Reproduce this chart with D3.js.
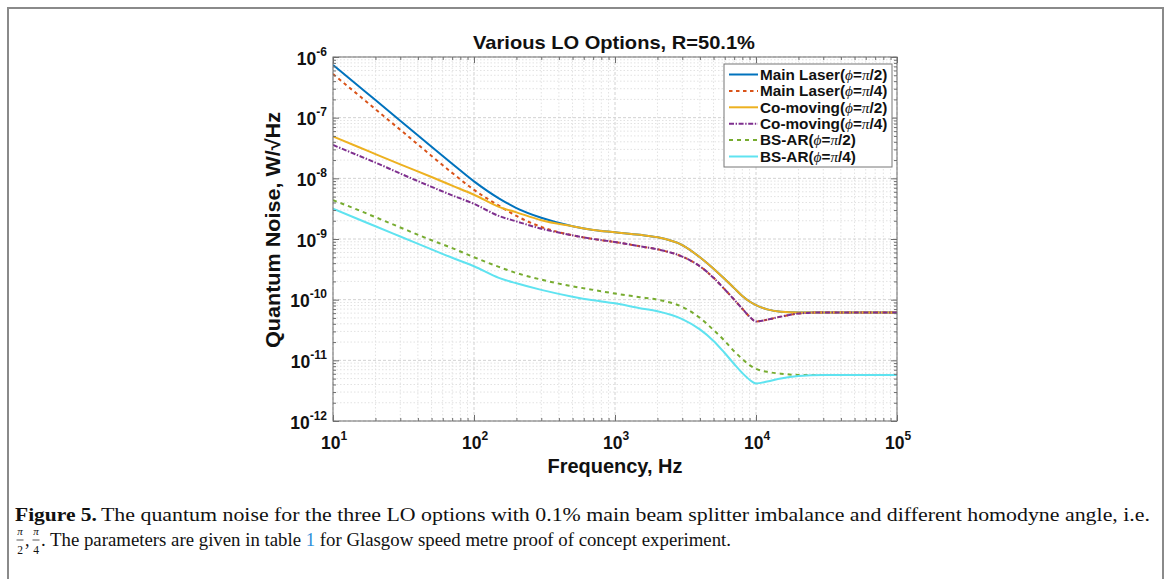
<!DOCTYPE html>
<html><head><meta charset="utf-8">
<script src="https://cdn.jsdelivr.net/npm/d3@7"></script>
<style>body{margin:0;background:#fff;} svg{display:block;}</style>
</head><body>
<svg id="c" width="1170" height="579"></svg>
<script>
// ---- data ----
const frequencies = [10,15,20,30,50,70,100,150,200,300,500,700,1000,1500,2000,3000,4000,5000,6000,7000,8000,9000,10000,12000,15000,20000,30000,50000,100000];
const mainLaserPi2 = [7.41e-7,3.39e-7,1.95e-7,8.91e-8,3.31e-8,1.74e-8,8.91e-9,4.68e-9,3.24e-9,2.24e-9,1.62e-9,1.41e-9,1.29e-9,1.17e-9,1.07e-9,7.94e-10,5.01e-10,3.24e-10,2.19e-10,1.55e-10,1.15e-10,9.33e-11,8.13e-11,6.92e-11,6.31e-11,6.17e-11,6.17e-11,6.17e-11,6.17e-11];
const mainLaserPi4 = [5.25e-7,2.40e-7,1.38e-7,6.31e-8,2.34e-8,1.23e-8,6.46e-9,3.55e-9,2.40e-9,1.58e-9,1.15e-9,1.00e-9,8.91e-10,7.59e-10,6.76e-10,5.13e-10,3.55e-10,2.29e-10,1.48e-10,1.00e-10,7.08e-11,5.25e-11,4.37e-11,4.68e-11,5.25e-11,5.89e-11,6.17e-11,6.17e-11,6.17e-11];
const coMovingPi2 = [4.90e-8,3.31e-8,2.51e-8,1.70e-8,1.05e-8,7.59e-9,5.37e-9,3.39e-9,2.75e-9,2.04e-9,1.62e-9,1.41e-9,1.29e-9,1.17e-9,1.07e-9,7.94e-10,5.01e-10,3.24e-10,2.19e-10,1.55e-10,1.15e-10,9.33e-11,8.13e-11,6.92e-11,6.31e-11,6.17e-11,6.17e-11,6.17e-11,6.17e-11];
const coMovingPi4 = [3.55e-8,2.40e-8,1.82e-8,1.20e-8,7.24e-9,5.25e-9,3.80e-9,2.40e-9,1.95e-9,1.48e-9,1.15e-9,1.00e-9,8.91e-10,7.59e-10,6.76e-10,5.13e-10,3.55e-10,2.29e-10,1.48e-10,1.00e-10,7.08e-11,5.25e-11,4.37e-11,4.68e-11,5.25e-11,5.89e-11,6.17e-11,6.17e-11,6.17e-11];
const bsArPi2 = [4.37e-9,3.02e-9,2.29e-9,1.55e-9,9.55e-10,7.08e-10,5.01e-10,3.47e-10,2.75e-10,2.14e-10,1.66e-10,1.45e-10,1.26e-10,1.10e-10,1.00e-10,7.59e-11,5.01e-11,3.16e-11,2.09e-11,1.41e-11,1.05e-11,8.32e-12,7.24e-12,6.46e-12,6.03e-12,5.75e-12,5.75e-12,5.75e-12,5.75e-12];
const bsArPi4 = [3.16e-9,2.14e-9,1.62e-9,1.10e-9,6.76e-10,4.90e-10,3.55e-10,2.29e-10,1.86e-10,1.45e-10,1.12e-10,9.77e-11,8.71e-11,7.24e-11,6.46e-11,4.79e-11,3.24e-11,2.09e-11,1.32e-11,8.71e-12,6.17e-12,4.79e-12,4.17e-12,4.47e-12,5.01e-12,5.50e-12,5.75e-12,5.75e-12,5.75e-12];
const seriesLabels = ["Main Laser(", "Main Laser(", "Co-moving(", "Co-moving(", "BS-AR(", "BS-AR("];
const seriesAngles = ["/2)", "/4)", "/2)", "/4)", "/2)", "/4)"];
const xTickExponents = [1,2,3,4,5];
const yTickExponents = [-6,-7,-8,-9,-10,-11,-12];
const titleText = "Various LO Options, R=50.1%";
const xLabelText = "Frequency, Hz";
const yLabelText = "Quantum Noise, W/\u221AHz";

// ---- styles ----
const seriesValues = [mainLaserPi2, mainLaserPi4, coMovingPi2, coMovingPi4, bsArPi2, bsArPi4];
const seriesColors = ["#0072bd", "#d95319", "#edb120", "#7e2f8e", "#77ac30", "#5fe3f0"];
const seriesDash = [null, "3.5,3.5", null, "5,1.6,1.4,1.6", "4,4", null];

const svg = d3.select("#c");
const sans = "'Liberation Sans', Arial, sans-serif";
const serif = "'Liberation Serif', 'Times New Roman', serif";

// outer frame
svg.append("path").attr("d", "M8,590 L8,8 L1163,8 L1163,590")
  .attr("fill", "none").attr("stroke", "#8a8a8a").attr("stroke-width", 2);

const L = 333, R = 897, T = 57, B = 421;
const x = d3.scaleLog().domain([10, 1e5]).range([L, R]);
const y = d3.scaleLog().domain([1e-12, 1e-6]).range([B, T]);

const xMajor = xTickExponents.map(e => Math.pow(10, e));
const yMajor = yTickExponents.map(e => Math.pow(10, e));
const xMinor = [], yMinor = [];
for (let d = 1; d < 5; d++) for (let m = 2; m <= 9; m++) xMinor.push(m * Math.pow(10, d));
for (let d = -12; d < -6; d++) for (let m = 2; m <= 9; m++) yMinor.push(m * Math.pow(10, d));

// grid
const grid = svg.append("g");
grid.selectAll(".gxm").data(xMinor).join("line")
  .attr("x1", d => x(d)).attr("x2", d => x(d)).attr("y1", T).attr("y2", B)
  .attr("stroke", "#e2e2e2").attr("stroke-dasharray", "1.5,2");
grid.selectAll(".gym").data(yMinor).join("line")
  .attr("y1", d => y(d)).attr("y2", d => y(d)).attr("x1", L).attr("x2", R)
  .attr("stroke", "#e2e2e2").attr("stroke-dasharray", "1.5,2");
grid.selectAll(".gx").data(xMajor).join("line")
  .attr("x1", d => x(d)).attr("x2", d => x(d)).attr("y1", T).attr("y2", B)
  .attr("stroke", "#d2d2d2").attr("stroke-dasharray", "3,2");
grid.selectAll(".gy").data(yMajor).join("line")
  .attr("y1", d => y(d)).attr("y2", d => y(d)).attr("x1", L).attr("x2", R)
  .attr("stroke", "#d2d2d2").attr("stroke-dasharray", "3,2");

// lines
const line = d3.line().x((d, i) => x(frequencies[i])).y(d => y(d)).curve(d3.curveMonotoneX);
svg.append("clipPath").attr("id", "pc").append("rect")
  .attr("x", L).attr("y", T).attr("width", R - L).attr("height", B - T);
const lines = svg.append("g").attr("clip-path", "url(#pc)");
seriesValues.forEach((vals, k) => {
  lines.append("path").datum(vals).attr("d", line)
    .attr("fill", "none").attr("stroke", seriesColors[k]).attr("stroke-width", 2)
    .attr("stroke-dasharray", seriesDash[k]);
});

// axes (inward ticks on all sides)
const axColor = "#6e6e6e";
function styleAxis(g) {
  g.select(".domain").remove();
  g.selectAll("line").attr("stroke", axColor);
  g.selectAll("text").remove();
}
svg.append("g").attr("transform", `translate(0,${B})`).call(d3.axisBottom(x).tickValues(xMajor).tickSize(-6)).call(styleAxis);
svg.append("g").attr("transform", `translate(0,${B})`).call(d3.axisBottom(x).tickValues(xMinor).tickSize(-3)).call(styleAxis);
svg.append("g").attr("transform", `translate(0,${T})`).call(d3.axisTop(x).tickValues(xMajor).tickSize(-6)).call(styleAxis);
svg.append("g").attr("transform", `translate(0,${T})`).call(d3.axisTop(x).tickValues(xMinor).tickSize(-3)).call(styleAxis);
svg.append("g").attr("transform", `translate(${L},0)`).call(d3.axisLeft(y).tickValues(yMajor).tickSize(-6)).call(styleAxis);
svg.append("g").attr("transform", `translate(${L},0)`).call(d3.axisLeft(y).tickValues(yMinor).tickSize(-3)).call(styleAxis);
svg.append("g").attr("transform", `translate(${R},0)`).call(d3.axisRight(y).tickValues(yMajor).tickSize(-6)).call(styleAxis);
svg.append("g").attr("transform", `translate(${R},0)`).call(d3.axisRight(y).tickValues(yMinor).tickSize(-3)).call(styleAxis);
svg.append("rect").attr("x", L).attr("y", T).attr("width", R - L).attr("height", B - T)
  .attr("fill", "none").attr("stroke", axColor).attr("stroke-width", 1);

// tick labels
const tl = svg.append("g").attr("font-family", sans).attr("font-weight", "bold").attr("fill", "#111");
yTickExponents.forEach(e => {
  const t = tl.append("text").attr("x", 327).attr("y", y(Math.pow(10, e)) + 7.5).attr("text-anchor", "end").attr("font-size", 17.5);
  t.append("tspan").text("10");
  t.append("tspan").attr("dy", -9).attr("font-size", 12).text(e);
});
xTickExponents.forEach(e => {
  const t = tl.append("text").attr("x", x(Math.pow(10, e)) + 1).attr("y", 449).attr("text-anchor", "middle").attr("font-size", 17.5);
  t.append("tspan").text("10");
  t.append("tspan").attr("dy", -9).attr("font-size", 12).text(e);
});

// title and axis labels
svg.append("text").attr("x", 614).attr("y", 49).attr("text-anchor", "middle")
  .attr("font-family", sans).attr("font-weight", "bold").attr("font-size", 19).attr("fill", "#111")
  .attr("textLength", 282).attr("lengthAdjust", "spacingAndGlyphs").text(titleText);
svg.append("text").attr("x", 615).attr("y", 473).attr("text-anchor", "middle")
  .attr("font-family", sans).attr("font-weight", "bold").attr("font-size", 19.5).attr("fill", "#111")
  .attr("textLength", 135).attr("lengthAdjust", "spacingAndGlyphs").text(xLabelText);
svg.append("text").attr("transform", "translate(280,230) rotate(-90)").attr("text-anchor", "middle")
  .attr("font-family", sans).attr("font-weight", "bold").attr("font-size", 20).attr("fill", "#111")
  .attr("textLength", 236).attr("lengthAdjust", "spacingAndGlyphs").text(yLabelText);

// legend
const lg = svg.append("g");
lg.append("rect").attr("x", 724).attr("y", 64).attr("width", 168).attr("height", 103)
  .attr("fill", "#fff").attr("stroke", "#777").attr("stroke-width", 1);
seriesLabels.forEach((lab, k) => {
  const cy = 74.5 + k * 16.4;
  lg.append("line").attr("x1", 729).attr("x2", 758).attr("y1", cy).attr("y2", cy)
    .attr("stroke", seriesColors[k]).attr("stroke-width", 2).attr("stroke-dasharray", seriesDash[k]);
  const t = lg.append("text").attr("x", 760).attr("y", cy + 5.3)
    .attr("font-family", sans).attr("font-weight", "bold").attr("font-size", 15.3).attr("fill", "#111");
  t.append("tspan").text(lab);
  t.append("tspan").attr("font-family", serif).attr("font-style", "italic").attr("font-weight", "normal").text("\u03D5");
  t.append("tspan").text("=");
  t.append("tspan").attr("font-family", serif).attr("font-style", "italic").attr("font-weight", "normal").text("\u03C0");
  t.append("tspan").text(seriesAngles[k]);
});

// caption
const cap = svg.append("g").attr("font-family", serif).attr("fill", "#111");
cap.append("text").attr("x", 15).attr("y", 521).attr("font-size", 18).attr("font-weight", "bold")
  .attr("textLength", 82).attr("lengthAdjust", "spacingAndGlyphs").text("Figure 5.");
cap.append("text").attr("x", 101).attr("y", 521).attr("font-size", 18)
  .attr("textLength", 1049).attr("lengthAdjust", "spacingAndGlyphs")
  .text("The quantum noise for the three LO options with 0.1% main beam splitter imbalance and different homodyne angle, i.e.");
function frac(cx, den) {
  cap.append("text").attr("x", cx).attr("y", 535).attr("text-anchor", "middle").attr("font-size", 11).attr("font-style", "italic").text("\u03C0");
  cap.append("line").attr("x1", cx - 3.5).attr("x2", cx + 3.5).attr("y1", 540).attr("y2", 540).attr("stroke", "#111").attr("stroke-width", 0.7);
  cap.append("text").attr("x", cx).attr("y", 554).attr("text-anchor", "middle").attr("font-size", 11.5).text(den);
}
frac(20, "2");
cap.append("text").attr("x", 25).attr("y", 546).attr("font-size", 18).text(",");
frac(36, "4");
const t2 = cap.append("text").attr("x", 41).attr("y", 546).attr("font-size", 18)
  .attr("textLength", 690).attr("lengthAdjust", "spacingAndGlyphs");
t2.append("tspan").text(". The parameters are given in table ");
t2.append("tspan").attr("fill", "#2f8fd8").text("1");
t2.append("tspan").text(" for Glasgow speed metre proof of concept experiment.");
</script>
</body></html>
